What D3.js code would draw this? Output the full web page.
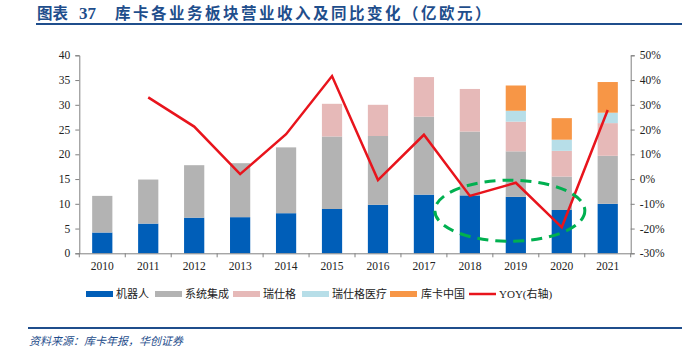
<!DOCTYPE html>
<html><head><meta charset="utf-8">
<script src="https://cdn.jsdelivr.net/npm/d3@7"></script>
<style>body{margin:0;background:#fff}svg{display:block}</style>
</head><body>
<script>
const years = ["2010","2011","2012","2013","2014","2015","2016","2017","2018","2019","2020","2021"];
const robot = [4.2,6.0,7.2,7.3,8.1,8.95,9.8,11.85,11.7,11.4,8.75,10.0];
const sysInt = [7.4,8.9,10.6,10.9,13.3,14.65,13.9,15.75,12.9,9.2,6.75,9.7];
const swisslog = [0,0,0,0,0,6.6,6.3,8.0,8.6,6.0,5.2,6.6];
const swisslogHealth = [0,0,0,0,0,0,0,0,0,2.2,2.25,2.1];
const kukaChina = [0,0,0,0,0,0,0,0,0,5.1,4.35,6.2];
const yoy = [null,33.0,21.2,2.0,18.1,41.6,-0.4,17.9,-6.8,-1.5,-19.5,27.9];
const leftTicks = [0,5,10,15,20,25,30,35,40];
const rightTicks = [-30,-20,-10,0,10,20,30,40,50];
const seriesNames = ["机器人","系统集成","瑞仕格","瑞仕格医疗","库卡中国","YOY(右轴)"];
const colors = ["#005eb8","#b3b3b3","#e6b9b8","#b7dee8","#f79646","#e8141c"];

const W=688,H=351;
const svg=d3.select("body").append("svg").attr("width",W).attr("height",H);
const m={l:79.3,r:630.7,t:55.3,b:253.3};
const x=d3.scaleBand().domain(years).range([m.l,m.r]).paddingInner(0).paddingOuter(0);
const yL=d3.scaleLinear().domain([0,40]).range([m.b,m.t]);
const yR=d3.scaleLinear().domain([-30,50]).range([m.b,m.t]);

// title
const tc="#1f4e8c";
const tstyle=s=>s.attr("y",19).attr("font-family","'Noto Sans CJK SC'").attr("font-weight","bold").attr("font-size",15.5).attr("fill",tc);
svg.append("text").call(tstyle).attr("x",37).text("图表");
svg.append("text").call(tstyle).attr("x",79).attr("font-family","'Liberation Serif'").attr("font-size",17).text("37");
svg.append("text").call(tstyle).attr("x",115).attr("letter-spacing",2.5).text("库卡各业务板块营业收入及同比变化（亿欧元）");
svg.append("line").attr("x1",36).attr("x2",682).attr("y1",24).attr("y2",24).attr("stroke",tc).attr("stroke-width",2);

// bars
const data=years.map((y,i)=>({year:y,vals:[robot[i],sysInt[i],swisslog[i],swisslogHealth[i],kukaChina[i]]}));
const bw=x.bandwidth()*0.44;
data.forEach(d=>{
  let acc=0;
  d.vals.forEach((v,k)=>{
    if(v>0){
      svg.append("rect").attr("x",x(d.year)+x.bandwidth()/2-bw/2).attr("width",bw)
        .attr("y",yL(acc+v)).attr("height",yL(acc)-yL(acc+v)).attr("fill",colors[k]);
    }
    acc+=v;
  });
});

// axes
const axisColor="#808080";
const gL=svg.append("g").attr("transform",`translate(${m.l},0)`).call(d3.axisLeft(yL).tickValues(leftTicks).tickSize(4).tickPadding(5));
const gR=svg.append("g").attr("transform",`translate(${m.r},0)`).call(d3.axisRight(yR).tickValues(rightTicks).tickSize(4).tickPadding(5).tickFormat(d=>d+"%"));
const gB=svg.append("g").attr("transform",`translate(0,${m.b})`).call(d3.axisBottom(x).tickSize(0).tickPadding(9));
const bounds=years.map(y=>x(y)).concat([m.r]);
gB.selectAll(".bt").data(bounds).enter().append("line").attr("x1",d=>d).attr("x2",d=>d).attr("y1",0).attr("y2",4).attr("stroke",axisColor);
[gL,gR,gB].forEach(g=>{
  g.selectAll("path.domain").attr("stroke",axisColor);
  g.selectAll(".tick line").attr("stroke",axisColor);
  g.selectAll("text").attr("font-family","'Liberation Serif'").attr("font-size",11.5).attr("fill","#222");
});

// YOY line
const line=d3.line().defined(d=>d.v!==null).x(d=>x(d.y)+x.bandwidth()/2).y(d=>yR(d.v));
svg.append("path").datum(years.map((y,i)=>({y,v:yoy[i]}))).attr("d",line)
  .attr("fill","none").attr("stroke",colors[5]).attr("stroke-width",2.5);

// green dashed ellipse annotation
svg.append("ellipse").attr("cx",x("2019")+x.bandwidth()/2-6).attr("cy",yL(8.6)).attr("rx",75).attr("ry",30.5)
  .attr("fill","none").attr("stroke","#00b050").attr("stroke-width",3).attr("stroke-dasharray","11,7");

// legend
const lg=[{x:86,t:116},{x:155,t:185},{x:233,t:263},{x:302,t:332},{x:390,t:421},{x:469,t:499}];
lg.forEach((p,i)=>{
  if(i<5) svg.append("rect").attr("x",p.x).attr("y",291).attr("width",27).attr("height",6).attr("fill",colors[i]);
  else svg.append("line").attr("x1",p.x).attr("x2",p.x+27).attr("y1",294).attr("y2",294).attr("stroke",colors[i]).attr("stroke-width",2.5);
  svg.append("text").attr("x",p.t).attr("y",298).attr("font-size",11).attr("fill","#222")
    .attr("font-family",i===5?"'Liberation Serif','Noto Sans CJK SC'":"'Noto Sans CJK SC'").text(seriesNames[i]);
});

// footer
svg.append("line").attr("x1",28).attr("x2",682).attr("y1",328).attr("y2",328).attr("stroke",tc).attr("stroke-width",2);
svg.append("text").attr("x",29).attr("y",345).attr("font-family","'Noto Sans CJK SC'").attr("font-style","italic")
  .attr("font-size",11).attr("fill",tc).text("资料来源：库卡年报，华创证券");
</script>
</body></html>
